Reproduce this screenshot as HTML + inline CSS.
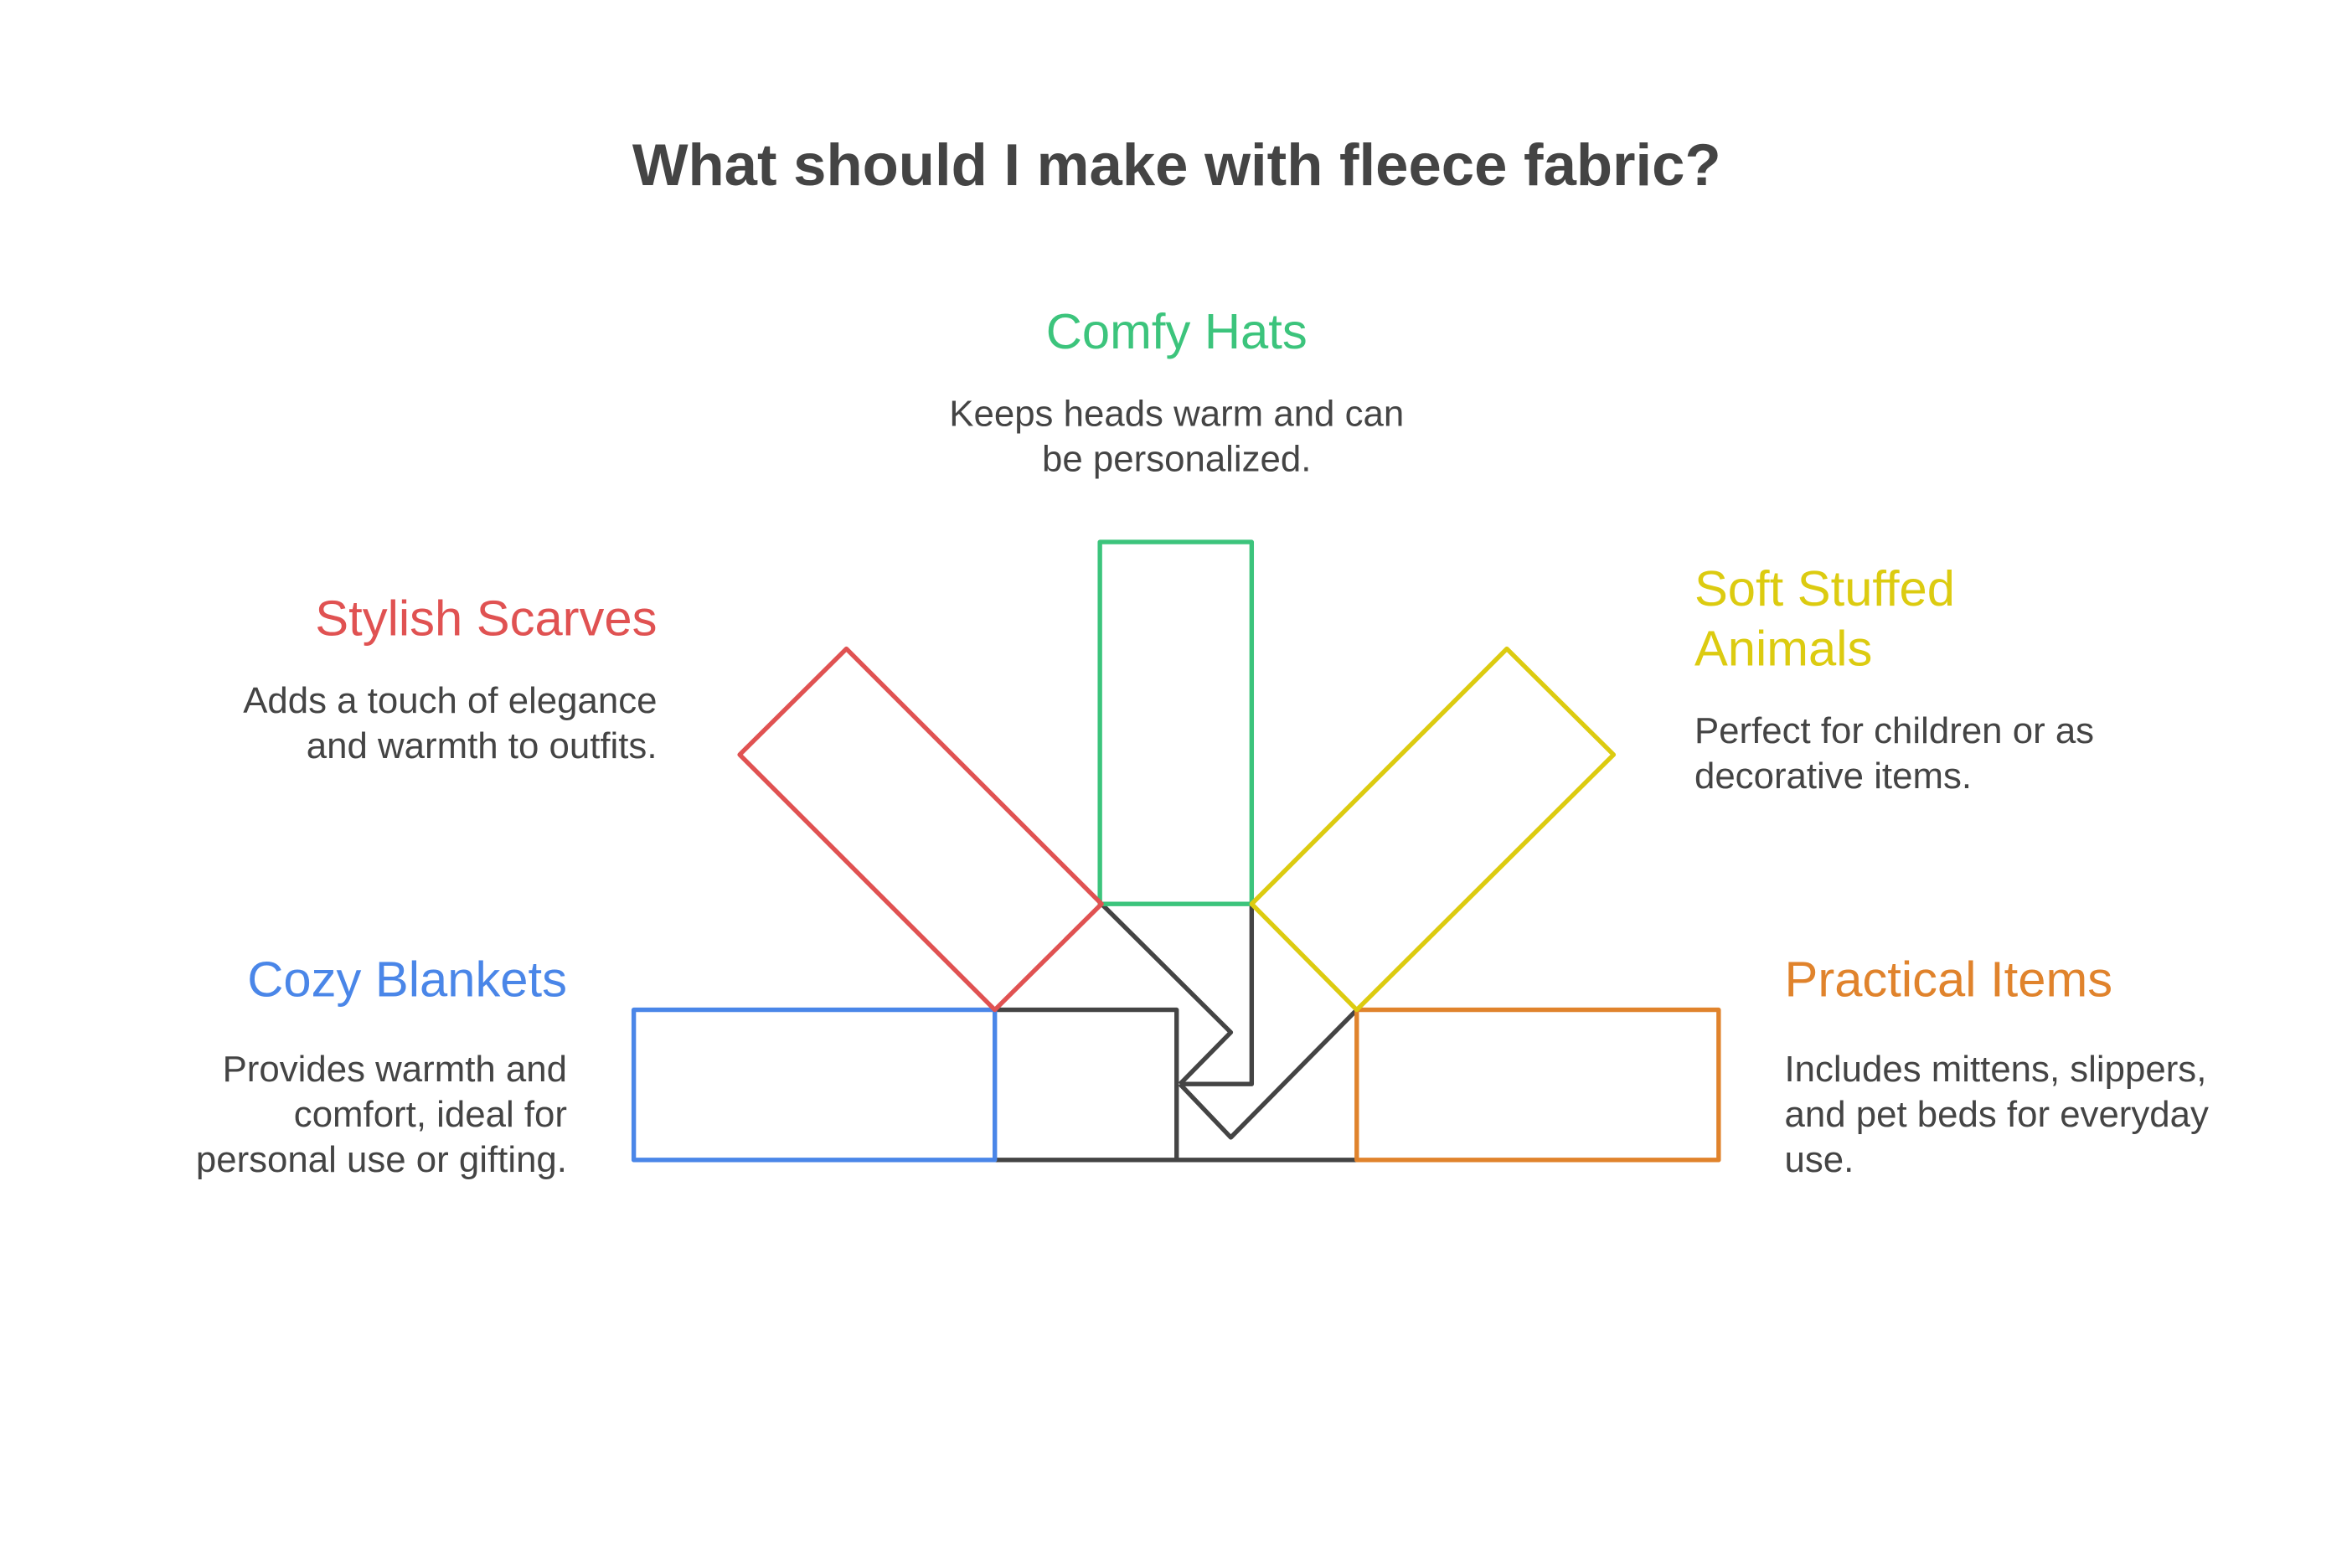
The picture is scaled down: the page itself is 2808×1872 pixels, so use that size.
<!DOCTYPE html>
<html><head><meta charset="utf-8"><style>
html,body{margin:0;padding:0;background:#fff;}
svg{display:block;}
text{font-family:"Liberation Sans",Arial,sans-serif;}
</style></head><body>
<svg width="2808" height="1872" viewBox="0 0 2808 1872" xmlns="http://www.w3.org/2000/svg">
<rect width="2808" height="1872" fill="#fff"/>
<g transform="scale(0.99556)">
<text x="1411" y="222" text-anchor="middle" font-size="71" font-weight="bold" fill="#444">What should I make with fleece fabric?</text>

<g fill="none" stroke-width="5.4" stroke-linejoin="round">
<polyline points="1193,1211 1411,1211 1411,1391" stroke="#444"/>
<line x1="1193" y1="1391" x2="1627" y2="1391" stroke="#444"/>
<polyline points="1321,1084 1476,1238 1415,1300" stroke="#444"/>
<polyline points="1501,1084 1501,1300 1415,1300" stroke="#444"/>
<polyline points="1415,1300 1476,1364 1627,1211" stroke="#444"/>
<rect x="1319" y="650" width="182" height="434" stroke="#3cc47c"/>
<rect x="760" y="1211" width="433" height="180" stroke="#4a86e8"/>
<rect x="1627" y="1211" width="434" height="180" stroke="#e0832c"/>
<polygon points="1015,778 1321,1084 1193,1211 887,905" stroke="#e05252"/>
<polygon points="1807,778 1935,905 1627,1211 1501,1084" stroke="#dccb10"/>
</g>

<g font-size="60">
<text x="1411" y="418" text-anchor="middle" fill="#3cc47c">Comfy Hats</text>
<text x="788" y="762" text-anchor="end" fill="#e05252">Stylish Scarves</text>
<text x="2032" y="726" fill="#dccb10">Soft Stuffed</text>
<text x="2032" y="798" fill="#dccb10">Animals</text>
<text x="680" y="1195" text-anchor="end" fill="#4a86e8">Cozy Blankets</text>
<text x="2140" y="1195" fill="#e0832c">Practical Items</text>
</g>
<g font-size="44" fill="#444">
<text x="1411" y="511" text-anchor="middle">Keeps heads warm and can</text>
<text x="1411" y="565" text-anchor="middle">be personalized.</text>
<text x="788" y="855" text-anchor="end">Adds a touch of elegance</text>
<text x="788" y="909" text-anchor="end">and warmth to outfits.</text>
<text x="2032" y="891">Perfect for children or as</text>
<text x="2032" y="945">decorative items.</text>
<text x="680" y="1297" text-anchor="end">Provides warmth and</text>
<text x="680" y="1351" text-anchor="end">comfort, ideal for</text>
<text x="680" y="1405" text-anchor="end">personal use or gifting.</text>
<text x="2140" y="1297">Includes mittens, slippers,</text>
<text x="2140" y="1351">and pet beds for everyday</text>
<text x="2140" y="1405">use.</text>
</g>
</g>
</svg>
</body></html>
